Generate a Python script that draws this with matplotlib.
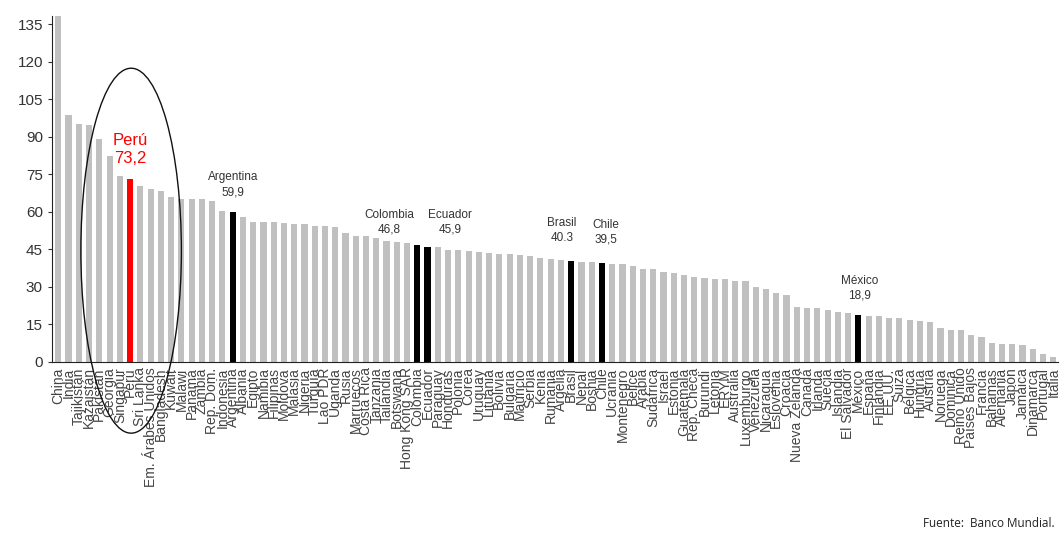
import matplotlib
matplotlib.use("Agg")
import matplotlib.pyplot as plt
from matplotlib.patches import Ellipse

countries = [
    "China", "India", "Tajikistán", "Kazajstán", "Pakistán", "Georgia", "Singapur", "Perú",
    "Sri Lanka", "Em. Árabes Unidos", "Bangladesh", "Kuwait", "Malawi", "Panamá", "Zambia",
    "Rep. Dom.", "Indonesia", "Argentina", "Albania", "Egipto", "Namibia", "Filipinas",
    "Moldova", "Malasia", "Nigeria", "Turquía", "Lao PDR", "Uganda", "Rusia", "Marruecos",
    "Costa Rica", "Tanzania", "Tailandia", "Botswana", "Hong Kong SAR", "Colombia", "Ecuador",
    "Paraguay", "Honduras", "Polonia", "Corea", "Uruguay", "Lituania", "Bolivia", "Bulgaria",
    "Mauricio", "Serbia", "Kenia", "Rumania", "Argelia", "Brasil", "Nepal", "Bosnia", "Chile",
    "Ucrania", "Montenegro", "Belice", "Arabia", "Sudáfrica", "Israel", "Estonia", "Guatemala",
    "Rep. Checa", "Burundi", "Letonia", "ERYM", "Australia", "Luxemburgo", "Venezuela",
    "Nicaragua", "Eslovenia", "Croacia", "Nueva Zelanda", "Canadá", "Irlanda", "Suecia",
    "Islandia", "El Salvador", "México", "España", "Finlandia", "EE.UU.", "Suiza", "Bélgica",
    "Hungría", "Austria", "Noruega", "Dominica", "Reino Unido", "Países Bajos", "Francia",
    "Bahamas", "Alemania", "Japón", "Jamaica", "Dinamarca", "Portugal", "Italia",
]

values = [
    140.0, 98.7, 95.3, 94.7, 89.0, 82.3, 74.3, 73.2, 70.3, 69.0, 68.3, 65.8, 65.1, 65.1,
    65.0, 64.3, 60.3, 59.9, 58.0, 56.0, 56.0, 55.8, 55.5, 55.3, 55.2, 54.5, 54.3, 54.0,
    51.6, 50.3, 50.3, 49.5, 48.3, 48.0, 47.4, 46.8, 45.9, 46.0, 44.7, 44.7, 44.5, 44.1,
    43.5, 43.2, 43.0, 42.9, 42.5, 41.7, 41.2, 40.9, 40.3, 40.0, 39.8, 39.5, 39.3, 39.1,
    38.4, 37.3, 37.1, 36.0, 35.7, 34.9, 34.0, 33.6, 33.0, 33.0, 32.4, 32.4, 30.0, 29.3,
    27.4, 26.7, 22.0, 21.4, 21.4, 20.7, 20.0, 19.6, 18.9, 18.4, 18.4, 17.4, 17.4, 16.7,
    16.4, 16.0, 13.4, 12.9, 12.9, 10.7, 10.0, 7.6, 7.1, 7.1, 6.7, 5.3, 3.3, 2.0,
]

highlight_black = ["Argentina", "Colombia", "Ecuador", "Brasil", "Chile", "México"]
highlight_red = ["Perú"]

# annotation text: (country, label, x offset in bars, y value of text bottom, ha)
notes = [
    ("Argentina", "Argentina\n59,9", 0.0, 65.5, "center"),
    ("Colombia", "Colombia\n46,8", -2.7, 50.5, "center"),
    ("Ecuador", "Ecuador\n45,9", 2.2, 50.5, "center"),
    ("Brasil", "Brasil\n40.3", -0.9, 47.0, "center"),
    ("Chile", "Chile\n39,5", 0.4, 46.5, "center"),
    ("México", "México\n18,9", 0.1, 24.0, "center"),
]

colors = []
for c in countries:
    if c in highlight_red:
        colors.append("#FF0000")
    elif c in highlight_black:
        colors.append("#000000")
    else:
        colors.append("#C0C0C0")

fig = plt.figure(figsize=(10.6, 5.41), dpi=100)
ax = fig.add_axes([0.049, 0.331, 0.949, 0.639])

x = list(range(len(countries)))
ax.bar(x, values, width=0.6, color=colors, zorder=2)

ax.set_xlim(-0.62, len(countries) - 0.55)
ax.set_ylim(0, 138.3)
ax.set_yticks(range(0, 136, 15))
ax.tick_params(axis="y", labelsize=11, length=3, colors="#333333", labelcolor="#333333")
for t in ax.get_yticklabels():
    t.set_family("Liberation Sans")

ax.set_xticks(x)
ax.set_xticklabels(countries, rotation=90, fontsize=10, color="#444444",
                   family="Liberation Sans", va="top")
ax.tick_params(axis="x", length=0, pad=4)

for s in ["top", "right"]:
    ax.spines[s].set_visible(False)
ax.spines["left"].set_color("#222222")
ax.spines["bottom"].set_color("#222222")

# Peru callout
ip = countries.index("Perú")
ax.text(ip, 78.5, "Perú\n73,2", color="#FF0000", fontsize=12, ha="center", va="bottom",
        family="Liberation Sans", linespacing=1.25)

for name, label, dx, ybot, ha in notes:
    i = countries.index(name)
    ax.text(i + dx, ybot, label, color="#333333", fontsize=8.5, ha=ha, va="bottom",
            family="Liberation Sans", linespacing=1.35)

ell = Ellipse((ip + 0.1, 44.5), width=9.8, height=146, fill=False, edgecolor="#111111",
              linewidth=1.0, clip_on=False, zorder=5)
ax.add_patch(ell)

fig.text(0.995, 0.02, "Fuente:  Banco Mundial.", ha="right", va="bottom", fontsize=8.5,
         color="#222222", family="Open Sans")

fig.savefig("out.png", dpi=100)
